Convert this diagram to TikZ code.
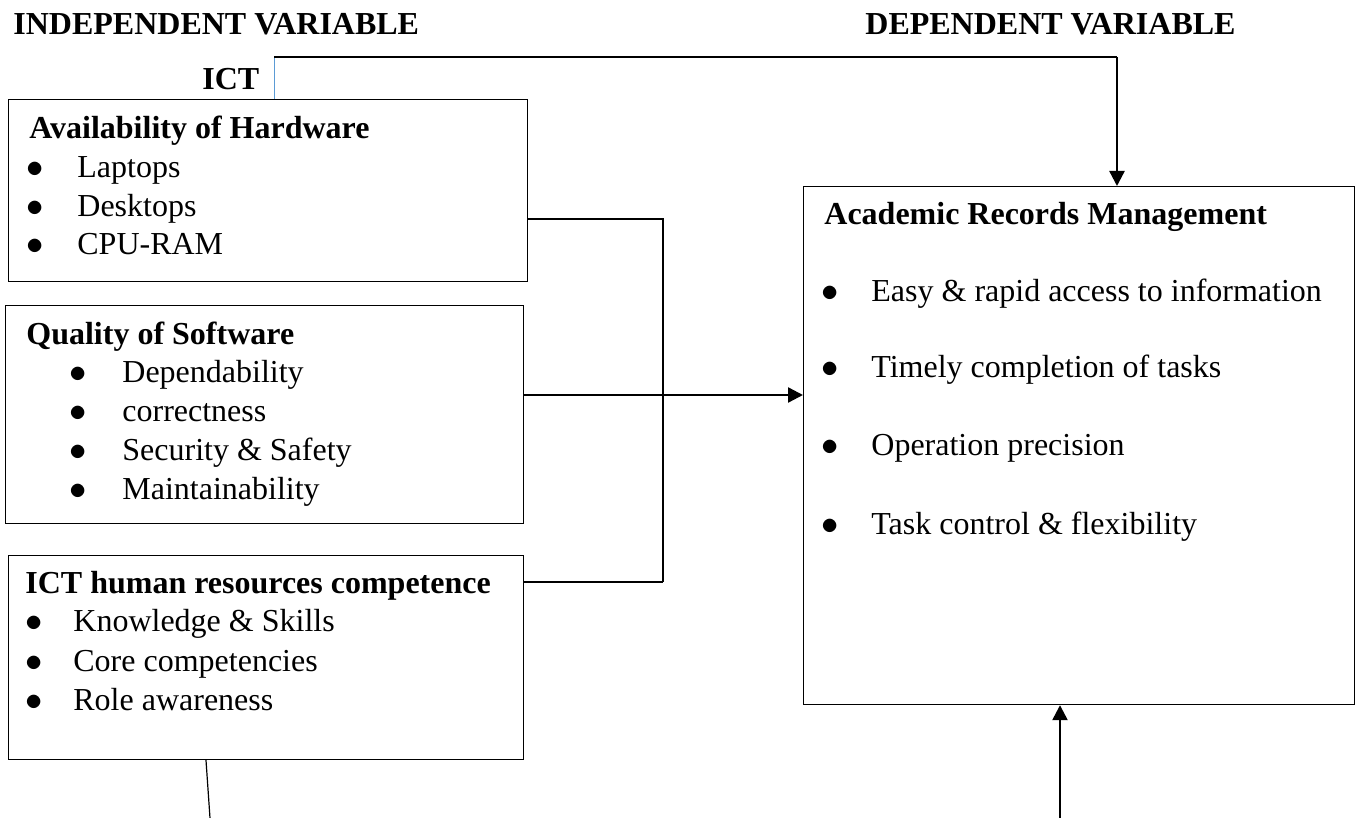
\documentclass[tikz,border=0pt]{standalone}
\usepackage{fontspec}
\setmainfont{Liberation Serif}
\usetikzlibrary{arrows.meta}

\begin{document}
\begin{tikzpicture}[x=0.5pt, y=-0.5pt,
  font=\fontsize{16pt}{19pt}\selectfont,
  box/.style={draw, line width=0.6pt, anchor=north west, inner sep=0pt},
  head/.style={anchor=base west, inner sep=0pt, font=\fontsize{16pt}{19pt}\selectfont\bfseries},
  item/.style={anchor=base west, inner sep=0pt},
  dot/.style={anchor=base, inner sep=0pt},
  conn/.style={line width=0.6pt},
  arr/.style={line width=1.2pt, -{Triangle[length=7.5pt, width=7.5pt]}}]
  \useasboundingbox (0,0) rectangle (1357,818);

  % Column headings
  \node[head] (indep) at (13,35) {INDEPENDENT VARIABLE};
  \node[head] (dep) at (865,35) {DEPENDENT VARIABLE};
  \node[head] (ict) at (202,90) {ICT};

  % Independent variable boxes
  \node[box, minimum width=259.5pt, minimum height=91pt] (hw) at (8,99) {};
  \node[head] (hwt) at (29,139) {Availability of Hardware};
  \node[dot] (hwd1) at (35,178) {$\bullet$}; \node[item] (hwi1) at (77,178) {Laptops};
  \node[dot] (hwd2) at (35,217) {$\bullet$}; \node[item] (hwi2) at (77,217) {Desktops};
  \node[dot] (hwd3) at (35,255) {$\bullet$}; \node[item] (hwi3) at (77,255) {CPU-RAM};

  \node[box, minimum width=259pt, minimum height=109pt] (sw) at (5,305) {};
  \node[head] (swt) at (26,345) {Quality of Software};
  \node[dot] (swd1) at (78,383) {$\bullet$}; \node[item] (swi1) at (122,383) {Dependability};
  \node[dot] (swd2) at (78,422) {$\bullet$}; \node[item] (swi2) at (122,422) {correctness};
  \node[dot] (swd3) at (78,461) {$\bullet$}; \node[item] (swi3) at (122,461) {Security \& Safety};
  \node[dot] (swd4) at (78,500) {$\bullet$}; \node[item] (swi4) at (122,500) {Maintainability};

  \node[box, minimum width=257.5pt, minimum height=102pt] (hr) at (8,555) {};
  \node[head] (hrt) at (25,594) {ICT human resources competence};
  \node[dot] (hrd1) at (34,632) {$\bullet$}; \node[item] (hri1) at (73,632) {Knowledge \& Skills};
  \node[dot] (hrd2) at (34,672) {$\bullet$}; \node[item] (hri2) at (73,672) {Core competencies};
  \node[dot] (hrd3) at (34,711) {$\bullet$}; \node[item] (hri3) at (73,711) {Role awareness};

  % Dependent variable box
  \node[box, minimum width=275.5pt, minimum height=259pt] (arm) at (803,186) {};
  \node[head] (armt) at (824,225) {Academic Records Management};
  \node[dot] (armd1) at (830,302) {$\bullet$}; \node[item] (armi1) at (871,302) {Easy \& rapid access to information};
  \node[dot] (armd2) at (830,378) {$\bullet$}; \node[item] (armi2) at (871,378) {Timely completion of tasks};
  \node[dot] (armd3) at (830,456) {$\bullet$}; \node[item] (armi3) at (871,456) {Operation precision};
  \node[dot] (armd4) at (830,535) {$\bullet$}; \node[item] (armi4) at (871,535) {Task control \& flexibility};

  % Junction points
  \coordinate (t1) at (274,57);
  \coordinate (t2) at (1117,57);
  \coordinate (j1) at (663,219);
  \coordinate (j2) at (663,395);
  \coordinate (j3) at (663,582);
  \coordinate (b0) at (206,818);
  \coordinate (b1) at (210,818);
  \coordinate (b2) at (1060,818);

  % Connectors
  \draw[line width=0.5pt, color={rgb,255:red,91;green,155;blue,213}] (t1) -- (t1 |- hw.north);
  \draw[conn] (t1) -- (t2);
  \draw[arr] (t2) -- (t2 |- arm.north);
  \draw[conn] (hw.east |- j1) -- (j1) -- (j3);
  \draw[conn] (sw.east |- j2) -- (j2);
  \draw[conn] (hr.east |- j3) -- (j3);
  \draw[arr] (j2) -- (arm.west |- j2);
  \draw[conn] (hr.south -| b0) -- (b1);
  \draw[arr] (b2) -- (b2 |- arm.south);
\end{tikzpicture}
\end{document}
